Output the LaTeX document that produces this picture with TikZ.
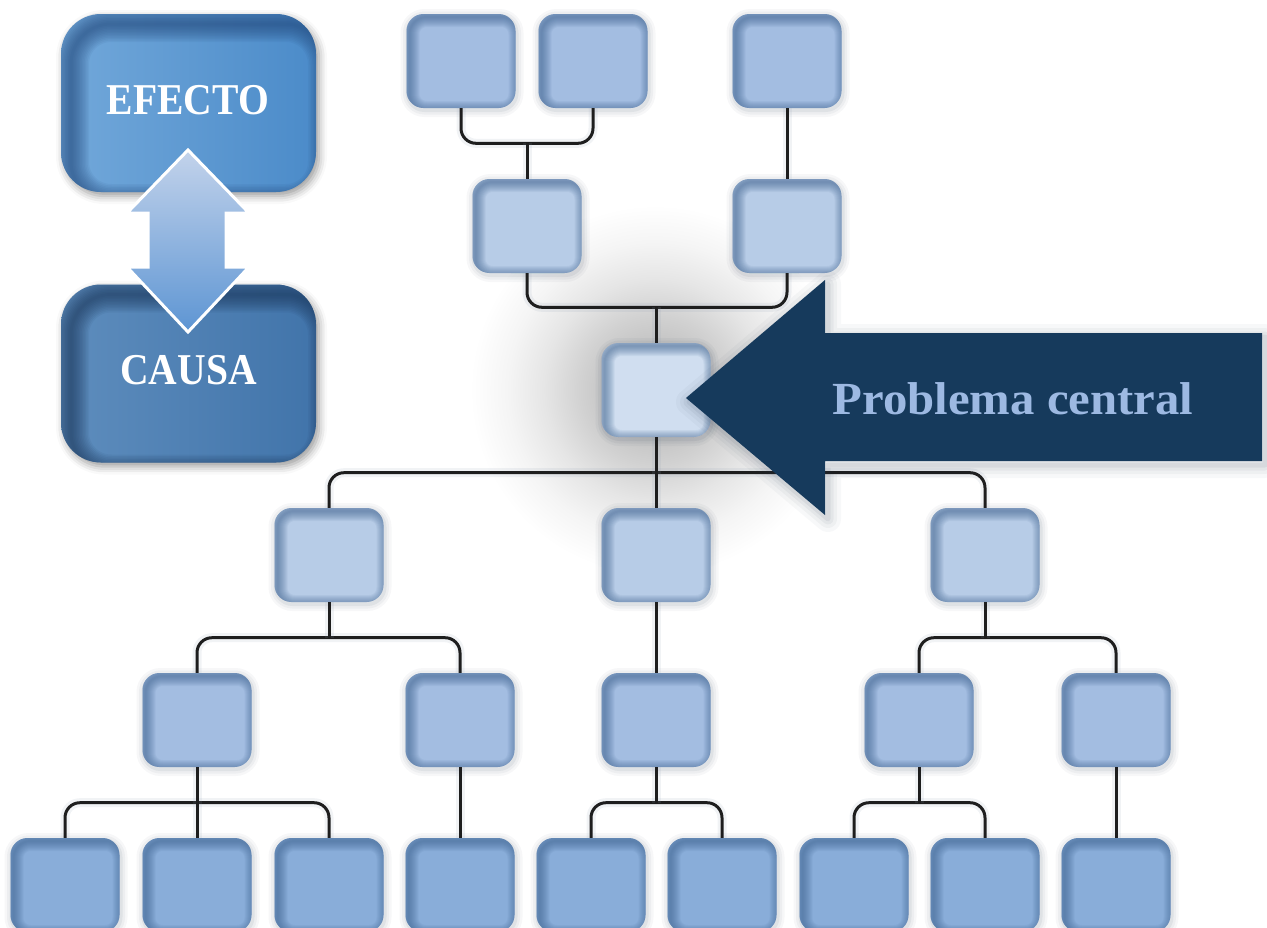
\documentclass[tikz,border=0pt]{standalone}
\usepackage{fontspec}
\setmainfont{Liberation Serif}
\usetikzlibrary{shadows.blur,calc}
\definecolor{cA}{HTML}{A3BDE1}
\definecolor{cB}{HTML}{B7CCE7}
\definecolor{cC}{HTML}{D0DEF0}
\definecolor{cD}{HTML}{89ADD9}
\definecolor{boxedge}{HTML}{3A5F8C}
\definecolor{shadowc}{HTML}{2A3A50}
\definecolor{linecol}{HTML}{1E1E1E}
\definecolor{lshadow}{HTML}{8A9AB0}
\definecolor{arrowcol}{HTML}{163A5C}
\definecolor{pctext}{HTML}{9DB9E2}
\definecolor{efL}{HTML}{72A8DA}
\definecolor{efR}{HTML}{4B8BC9}
\definecolor{efD}{HTML}{22477A}
\definecolor{caL}{HTML}{5E8DBD}
\definecolor{caR}{HTML}{4174AA}
\definecolor{caD}{HTML}{1A3558}
\definecolor{daTop}{HTML}{C3D3EB}
\definecolor{daBot}{HTML}{5D95D3}
\pgfdeclareradialshading{cglow}{\pgfpoint{0bp}{0bp}}{color(0bp)=(black!28); color(5bp)=(black!25); color(10bp)=(black!18); color(15bp)=(black!10); color(20bp)=(black!4); color(25bp)=(white); color(50bp)=(white)}
\begin{document}
\begin{tikzpicture}[x=1pt,y=-1pt,
  softshadow/.style={
    preaction={draw=shadowc, line width=14pt, opacity=0.04, transform canvas={xshift=1pt, yshift=-2pt}},
    preaction={draw=shadowc, line width=9pt, opacity=0.05, transform canvas={xshift=1pt, yshift=-2pt}},
    preaction={draw=shadowc, line width=4pt, opacity=0.07, transform canvas={xshift=1pt, yshift=-2pt}}},
  arrowshadow/.style={
    preaction={draw=shadowc, line join=round, line width=26pt, opacity=0.035, transform canvas={xshift=3pt, yshift=-4pt}},
    preaction={draw=shadowc, line join=round, line width=18pt, opacity=0.045, transform canvas={xshift=3pt, yshift=-4pt}},
    preaction={draw=shadowc, line join=round, line width=11pt, opacity=0.055, transform canvas={xshift=3pt, yshift=-4pt}},
    preaction={draw=shadowc, line join=round, line width=5pt, opacity=0.07, transform canvas={xshift=3pt, yshift=-4pt}}},
  tbox/.style={rectangle, rounded corners=17pt, minimum width=109pt, minimum height=94pt, inner sep=0pt, fill=#1,
    softshadow,
    path picture={
      \foreach \w in {2,4,...,20}{
        \draw[boxedge, opacity=0.07, line width=\w pt, rounded corners=17pt]
          ([shift={(3pt,-3pt)}]path picture bounding box.north west) rectangle
          ([shift={(3pt,-3pt)}]path picture bounding box.south east);
      }}},
  bigbox/.style n args={3}{rectangle, rounded corners=40pt, minimum width=255pt, minimum height=178pt, inner sep=0pt,
    left color=#1, right color=#2,
    blur shadow={shadow xshift=3pt, shadow yshift=-4pt, shadow blur radius=8pt, shadow opacity=40},
    path picture={
      \foreach \w in {3,6,...,36}{
        \draw[#3, opacity=0.07, line width=\w pt, rounded corners=40pt]
          ([shift={(10pt,-10pt)}]path picture bounding box.north west) rectangle
          ([shift={(10pt,-10pt)}]path picture bounding box.south east);
      }}},
  conn/.style={draw=linecol, line width=3pt, rounded corners=15pt, preaction={draw=lshadow, line width=9pt, opacity=0.12}},
  bigtext/.style={text=white, font=\fontsize{44}{50}\selectfont\bfseries, inner sep=0pt, anchor=base},
  pclabel/.style={text=pctext, font=\fontsize{46}{50}\selectfont\bfseries, inner sep=0pt, anchor=base}
]
\useasboundingbox (0,0) rectangle (1267,927);
\clip (0,0) rectangle (1267,927);

% soft glow behind the central problem
\shade[shading=cglow] (655,390) circle (185);

% boxes
\node[tbox=cA] (r0a) at (461,61) {};
\node[tbox=cA] (r0b) at (593,61) {};
\node[tbox=cA] (r0c) at (787,61) {};
\node[tbox=cB] (r1a) at (527,226) {};
\node[tbox=cB] (r1b) at (787,226) {};
\node[tbox=cC] (r2) at (656,390) {};
\node[tbox=cB] (r3a) at (329,555) {};
\node[tbox=cB] (r3b) at (656,555) {};
\node[tbox=cB] (r3c) at (985,555) {};
\node[tbox=cA] (r4a) at (197,720) {};
\node[tbox=cA] (r4b) at (460,720) {};
\node[tbox=cA] (r4c) at (656,720) {};
\node[tbox=cA] (r4d) at (919,720) {};
\node[tbox=cA] (r4e) at (1116,720) {};
\node[tbox=cD] (r5a) at (65,885) {};
\node[tbox=cD] (r5b) at (197,885) {};
\node[tbox=cD] (r5c) at (329,885) {};
\node[tbox=cD] (r5d) at (460,885) {};
\node[tbox=cD] (r5e) at (591,885) {};
\node[tbox=cD] (r5f) at (722,885) {};
\node[tbox=cD] (r5g) at (854,885) {};
\node[tbox=cD] (r5h) at (985,885) {};
\node[tbox=cD] (r5i) at (1116,885) {};

% connectors (upper tree)
\coordinate (b01) at ($(r1a.north)+(0,-35.5)$);
\draw[conn] (r0a.south) |- (b01) -| (r0b.south);
\draw[conn] (b01) -- (r1a.north);
\draw[conn] (r0c.south) -- (r1b.north);
\coordinate (b12) at ($(r2.north)+(0,-35.5)$);
\draw[conn] (r1a.south) |- (b12) -| (r1b.south);
\draw[conn] (b12) -- (r2.north);
% connectors (lower tree)
\coordinate (b23) at ($(r2.south)+(0,35.5)$);
\draw[conn] (r3a.north) |- (b23) -| (r3c.north);
\draw[conn] (r2.south) -- (r3b.north);
\coordinate (b3a) at ($(r3a.south)+(0,35.5)$);
\draw[conn] (r4a.north) |- (b3a) -| (r4b.north);
\draw[conn] (r3a.south) -- (b3a);
\draw[conn] (r3b.south) -- (r4c.north);
\coordinate (b3c) at ($(r3c.south)+(0,35.5)$);
\draw[conn] (r4d.north) |- (b3c) -| (r4e.north);
\draw[conn] (r3c.south) -- (b3c);
\coordinate (b4a) at ($(r4a.south)+(0,35.5)$);
\draw[conn] (r5a.north) |- (b4a) -| (r5c.north);
\draw[conn] (r4a.south) -- (r5b.north);
\draw[conn] (r4b.south) -- (r5d.north);
\coordinate (b4c) at ($(r4c.south)+(0,35.5)$);
\draw[conn] (r5e.north) |- (b4c) -| (r5f.north);
\draw[conn] (r4c.south) -- (b4c);
\coordinate (b4d) at ($(r4d.south)+(0,35.5)$);
\draw[conn] (r5g.north) |- (b4d) -| (r5h.north);
\draw[conn] (r4d.south) -- (b4d);
\draw[conn] (r4e.south) -- (r5i.north);

% big pointer arrow
\fill[arrowcol, arrowshadow]
  (686,398) -- (825,280) -- (825,333) -- (1262,333) -- (1262,461) -- (825,461) -- (825,515) -- cycle;
\node[pclabel] (pc) at (1013,414) {\scalebox{1.06}[1]{Problema central}};

% effect / cause
\node[bigbox={efL}{efR}{efD}] (efecto) at (188.5,103) {};
\node[bigbox={caL}{caR}{caD}] (causa) at (188.5,373.5) {};
\node[bigtext] (efectot) at (188,114) {\scalebox{0.9}[1]{EFECTO}};
\node[bigtext] (causat) at (188.5,384) {\scalebox{0.9}[1]{CAUSA}};

% double arrow
\draw[white, line width=3pt, line join=miter, top color=daTop, bottom color=daBot]
  (188,150) -- (249,213) -- (226,213) -- (226,267) -- (249,267) -- (188,332) -- (127,267) -- (148,267) -- (148,213) -- (127,213) -- cycle;
\end{tikzpicture}
\end{document}
